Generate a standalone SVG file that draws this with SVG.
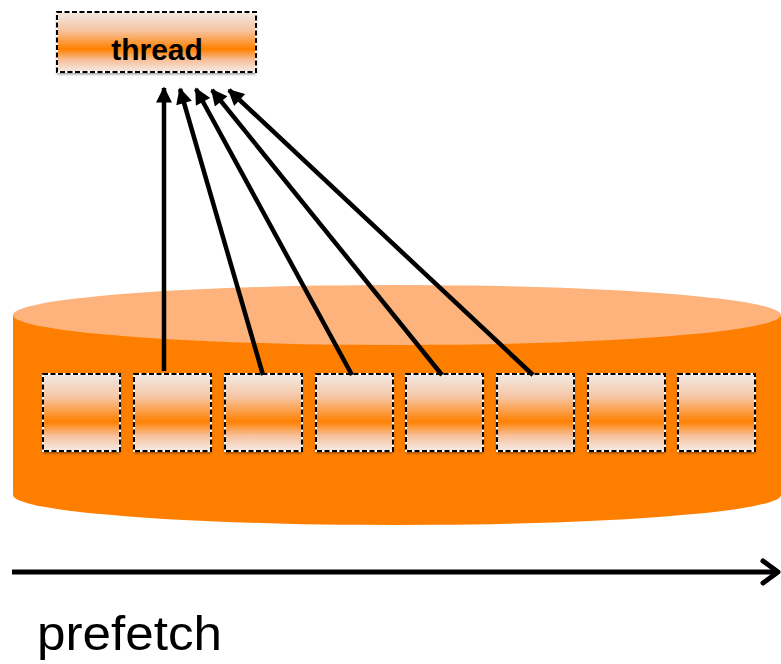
<svg xmlns="http://www.w3.org/2000/svg" width="781" height="664" viewBox="0 0 781 664">
<defs>
<linearGradient id="g" x1="0" y1="0" x2="0" y2="1">
<stop offset="0" stop-color="#F1E9E5"/>
<stop offset="0.3" stop-color="#F6C6A4"/>
<stop offset="0.62" stop-color="#FF8000"/>
<stop offset="0.8" stop-color="#F8C09A"/>
<stop offset="1" stop-color="#F3EBE7"/>
</linearGradient>
<filter id="sh" x="-10%" y="-10%" width="130%" height="130%">
<feGaussianBlur in="SourceAlpha" stdDeviation="1.5"/>
<feOffset dx="0" dy="2" result="b"/>
<feComponentTransfer><feFuncA type="linear" slope="0.5"/></feComponentTransfer>
<feMerge><feMergeNode/><feMergeNode in="SourceGraphic"/></feMerge>
</filter>
<marker id="ah" viewBox="0 0 10 10" refX="9" refY="5" markerWidth="4" markerHeight="3.6" orient="auto" markerUnits="strokeWidth">
<path d="M0,0 L10,5 L0,10 z" fill="#000"/>
</marker>
</defs>
<style>
.box{fill:url(#g);filter:url(#sh)}
.dash{fill:none;stroke:#fff;stroke-width:2}
.dash2{fill:none;stroke:#000;stroke-width:2;stroke-dasharray:5 2.5}
.conn{stroke:#000;stroke-width:4.5;fill:none;marker-end:url(#ah)}
</style>
<g id="disk">
<path d="M13,315 L13,495 A384,30 0 0 0 781,495 L781,315 Z" fill="#FE7F00"/>
<ellipse cx="397" cy="315" rx="384" ry="30" fill="#FDB37B"/>
</g>
<g id="thread">
<rect class="box" x="57" y="12" width="199" height="60"/>
<rect class="dash" x="57" y="12" width="199" height="60"/>
<rect class="dash2" x="57" y="12" width="199" height="60"/>
<text x="157" y="60" text-anchor="middle" font-family="Liberation Sans, Arial, sans-serif" font-weight="bold" font-size="30" fill="#000">thread</text>
</g>
<g id="block1"><rect class="box" x="43" y="374" width="77" height="77"/><rect class="dash" x="43" y="374" width="77" height="77"/><rect class="dash2" x="43" y="374" width="77" height="77"/></g>
<g id="block2"><rect class="box" x="134" y="374" width="77" height="77"/><rect class="dash" x="134" y="374" width="77" height="77"/><rect class="dash2" x="134" y="374" width="77" height="77"/></g>
<g id="block3"><rect class="box" x="225" y="374" width="77" height="77"/><rect class="dash" x="225" y="374" width="77" height="77"/><rect class="dash2" x="225" y="374" width="77" height="77"/></g>
<g id="block4"><rect class="box" x="316" y="374" width="77" height="77"/><rect class="dash" x="316" y="374" width="77" height="77"/><rect class="dash2" x="316" y="374" width="77" height="77"/></g>
<g id="block5"><rect class="box" x="406" y="374" width="77" height="77"/><rect class="dash" x="406" y="374" width="77" height="77"/><rect class="dash2" x="406" y="374" width="77" height="77"/></g>
<g id="block6"><rect class="box" x="497" y="374" width="77" height="77"/><rect class="dash" x="497" y="374" width="77" height="77"/><rect class="dash2" x="497" y="374" width="77" height="77"/></g>
<g id="block7"><rect class="box" x="588" y="374" width="77" height="77"/><rect class="dash" x="588" y="374" width="77" height="77"/><rect class="dash2" x="588" y="374" width="77" height="77"/></g>
<g id="block8"><rect class="box" x="678" y="374" width="77" height="77"/><rect class="dash" x="678" y="374" width="77" height="77"/><rect class="dash2" x="678" y="374" width="77" height="77"/></g>
<g id="connectors">
<line class="conn" x1="164" y1="371" x2="164" y2="88"/>
<line class="conn" x1="263" y1="375" x2="180" y2="89"/>
<line class="conn" x1="352" y1="375" x2="196" y2="89"/>
<line class="conn" x1="442" y1="375" x2="212" y2="90"/>
<line class="conn" x1="533" y1="375" x2="229" y2="90"/>
</g>
<g id="axis">
<line x1="12" y1="572" x2="778" y2="572" stroke="#000" stroke-width="5"/>
<path d="M763,561 L778,572 L763,583" fill="none" stroke="#000" stroke-width="5" stroke-linecap="round" stroke-linejoin="round"/>
<text x="37" y="650" font-family="Liberation Sans, Arial, sans-serif" font-size="48" textLength="185" lengthAdjust="spacingAndGlyphs" fill="#000">prefetch</text>
</g>
</svg>
